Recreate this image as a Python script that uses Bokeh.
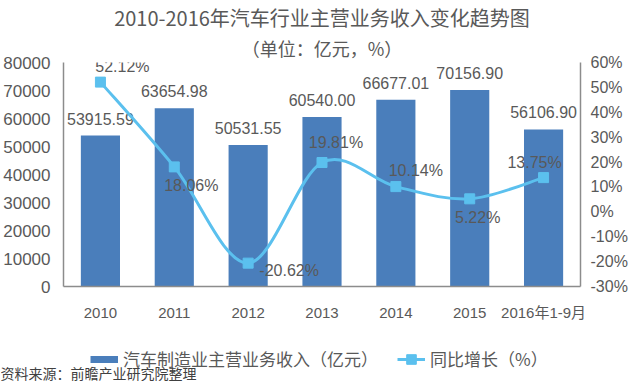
from bokeh.plotting import figure
from bokeh.layouts import column
from bokeh.models import (Range1d, LinearAxis, FixedTicker, PrintfTickFormatter,
                          ColumnDataSource, Legend, LegendItem, Title)
from bokeh.core.properties import value
from bokeh.embed import file_html
from bokeh.resources import INLINE

# ---- data ----
categories = ["2010", "2011", "2012", "2013", "2014", "2015", "2016年1-9月"]
revenue = [53915.59, 63654.98, 50531.55, 60540.00, 66677.01, 70156.90, 56106.90]
growth = [52.12, 18.06, -20.62, 19.81, 10.14, 5.22, 13.75]
left_ticks = [0, 10000, 20000, 30000, 40000, 50000, 60000, 70000, 80000]
right_ticks = [-30, -20, -10, 0, 10, 20, 30, 40, 50, 60]
series_names = ["汽车制造业主营业务收入（亿元）", "同比增长（%）"]
title_text = "2010-2016年汽车行业主营业务收入变化趋势图"
subtitle_text = "（单位：亿元，%）"
source_text = "资料来源：前瞻产业研究院整理"

# ---- style ----
CJK = "Noto Sans CJK SC"
NUM = "'Liberation Sans', 'Noto Sans CJK SC'"
TXT = "#595959"
BAR = "#4a7ebb"
LINE = "#5bc0ee"
AX = "#8c8c8c"

# per-label pixel nudges for the percentage labels (screen px)
pct_dx = [22, 17, 41, 14, 20, 8, -9]
pct_dy = [-16, 19, 7, -20, -16, 19, -15]

xs = [i + 0.5 for i in range(len(categories))]

p = figure(frame_width=517, frame_height=224, output_backend="svg", toolbar_location=None,
           x_range=Range1d(0, len(categories)), y_range=Range1d(0, 80000),
           min_border_left=60, min_border_right=47, min_border_top=55,
           min_border_bottom=35)
p.frame_align = False
p.outline_line_color = None
p.xgrid.visible = False
p.ygrid.visible = False
p.background_fill_color = "white"
p.border_fill_color = "white"

p.extra_y_ranges = {"pct": Range1d(-30, 60)}

# bars
bar_src = ColumnDataSource(dict(x=xs, top=revenue,
                                lab=[f"{v:.2f}" for v in revenue]))
p.vbar(x="x", top="top", width=0.53, source=bar_src,
       fill_color=BAR, line_color=None)
p.text(x="x", y="top", text="lab", source=bar_src, y_offset=-17,
       text_align="center", text_baseline="middle",
       text_font=value(NUM), text_font_size="16px", text_color=TXT)

# smooth growth curve (Catmull-Rom -> cubic Bezier control points)
n = len(growth)
x0, y0, x1, y1, cx0, cy0, cx1, cy1 = ([] for _ in range(8))
for i in range(n - 1):
    a = max(i - 1, 0)
    d = min(i + 2, n - 1)
    x0.append(xs[i]); y0.append(growth[i])
    x1.append(xs[i + 1]); y1.append(growth[i + 1])
    cx0.append(xs[i] + (xs[i + 1] - xs[a]) / 6)
    cy0.append(growth[i] + (growth[i + 1] - growth[a]) / 6)
    cx1.append(xs[i + 1] - (xs[d] - xs[i]) / 6)
    cy1.append(growth[i + 1] - (growth[d] - growth[i]) / 6)
p.bezier(x0=x0, y0=y0, x1=x1, y1=y1, cx0=cx0, cy0=cy0, cx1=cx1, cy1=cy1,
         y_range_name="pct", line_color=LINE, line_width=3)

pct_src = ColumnDataSource(dict(x=xs, y=growth,
                                lab=[f"{v:.2f}%" for v in growth],
                                dx=pct_dx, dy=pct_dy))
p.scatter(x="x", y="y", source=pct_src, y_range_name="pct",
          marker="square", size=10, fill_color=LINE, line_color=LINE)
p.text(x="x", y="y", text="lab", source=pct_src, y_range_name="pct",
       x_offset="dx", y_offset="dy", text_align="center", text_baseline="middle",
       text_font=value(NUM), text_font_size="16px", text_color=TXT)

# axes
def style_axis(ax, size, standoff):
    ax.major_tick_line_color = None
    ax.minor_tick_line_color = None
    ax.major_tick_out = 0
    ax.major_tick_in = 0
    ax.minor_tick_out = 0
    ax.minor_tick_in = 0
    ax.axis_line_color = AX
    ax.axis_line_width = 1.5
    ax.major_label_standoff = standoff
    ax.major_label_text_font = NUM
    ax.major_label_text_font_size = size
    ax.major_label_text_color = TXT

xa = p.xaxis[0]
xa.ticker = FixedTicker(ticks=xs)
xa.major_label_overrides = {x: c for x, c in zip(xs, categories)}
style_axis(xa, "15px", 17)

ya = p.yaxis[0]
ya.ticker = FixedTicker(ticks=left_ticks)
ya.formatter = PrintfTickFormatter(format="%d")
style_axis(ya, "17px", 13)

ra = LinearAxis(y_range_name="pct", ticker=FixedTicker(ticks=right_ticks),
                formatter=PrintfTickFormatter(format="%d%%"))
style_axis(ra, "16px", 10)
p.add_layout(ra, "right")

# titles
t2 = Title(text=subtitle_text, align="center", text_font=CJK,
           text_font_size="18px", text_color=TXT, text_font_style="normal", standoff=3)
t1 = Title(text=title_text, align="center", text_font=CJK,
           text_font_size="20px", text_color=TXT, text_font_style="normal", standoff=0)
p.add_layout(t2, "above")
p.add_layout(t1, "above")

# ---- legend + source strip ----
LH = 58
q = figure(width=624, height=LH, output_backend="svg", toolbar_location=None,
           x_range=Range1d(0, 624), y_range=Range1d(0, LH),
           x_axis_type=None, y_axis_type=None,
           min_border=0, min_border_left=0, min_border_right=0,
           min_border_top=0, min_border_bottom=0)
q.frame_align = False
q.outline_line_color = None
q.xgrid.visible = False
q.ygrid.visible = False
q.background_fill_color = "white"
q.border_fill_color = "white"

# legend swatches (style only; the point sits outside the visible strip)
sw_bar = q.line(x=[-1000, -999], y=[-1000, -1000], line_color=BAR, line_width=7)
sw_line = q.line(x=[-1000, -999], y=[-1000, -1000], line_color=LINE, line_width=3)
sw_pt = q.scatter(x=[-1000], y=[-1000], marker="square", size=10,
                  fill_color=LINE, line_color=LINE)

legend = Legend(items=[
    LegendItem(label=series_names[0], renderers=[sw_bar]),
    LegendItem(label=series_names[1], renderers=[sw_line, sw_pt]),
], orientation="horizontal", location=(90, 10),
    glyph_width=28, glyph_height=24, label_standoff=5, spacing=19,
    padding=2, margin=0, border_line_color=None, background_fill_alpha=0,
    label_text_font=CJK, label_text_font_size="17px", label_text_color=TXT)
q.add_layout(legend, "center")

q.text(x=[0], y=[9], text=[source_text], text_align="left", text_baseline="middle",
       text_font=value(CJK), text_font_size="14px", text_color="#404040")

open("out.html", "w").write(file_html(column(p, q, spacing=0), INLINE))
